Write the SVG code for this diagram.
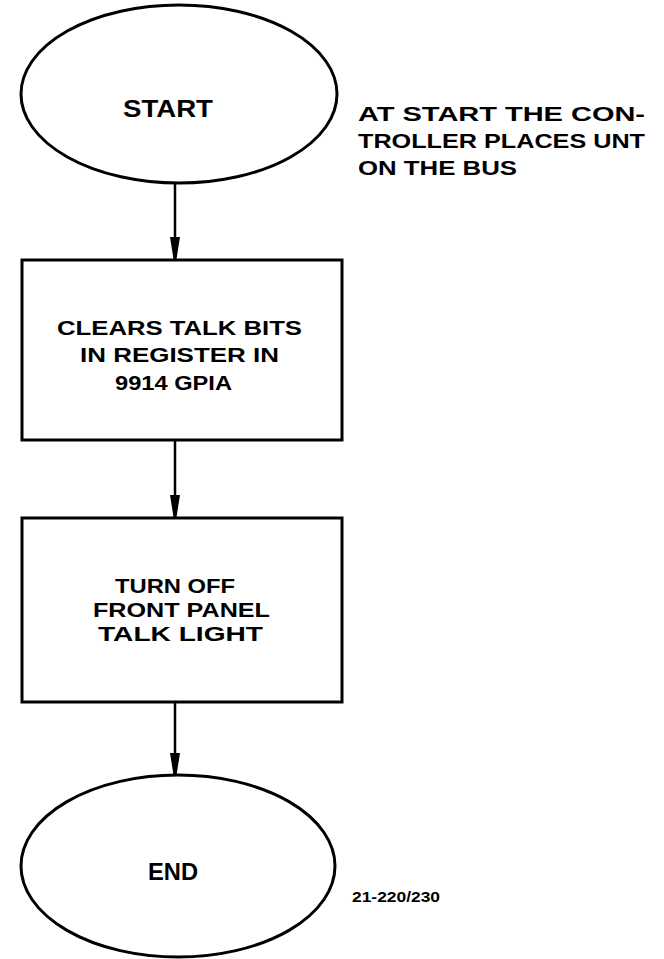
<svg xmlns="http://www.w3.org/2000/svg" width="664" height="959" viewBox="0 0 664 959">
  <style>
    .shape { fill: none; stroke: #000; stroke-width: 3; }
    .wire { fill: none; stroke: #000; stroke-width: 2.5; }
    .lbl { font-family: "Liberation Sans", Arial, sans-serif; font-weight: bold; font-size: 21px; fill: #000; text-anchor: middle; }
    .term { font-size: 24px; }
    .note { font-family: "Liberation Sans", Arial, sans-serif; font-weight: bold; font-size: 21px; fill: #000; }
    .ref { font-family: "Liberation Sans", Arial, sans-serif; font-weight: bold; font-size: 14px; fill: #000; }
  </style>
  <defs>
    <!-- narrow tapered arrowhead, tip at the end of the line -->
    <marker id="head" viewBox="0 0 22 10" refX="22" refY="5" markerWidth="22" markerHeight="10" markerUnits="userSpaceOnUse" orient="auto">
      <path d="M0,0 L22,3.5 L22,6.5 L0,10 Z" fill="#000"/>
    </marker>
  </defs>
  <rect width="664" height="959" fill="#fff"/>

  <g id="connectors">
    <line class="wire" x1="175" y1="183" x2="175" y2="259" marker-end="url(#head)"/>
    <line class="wire" x1="175" y1="440" x2="175" y2="517" marker-end="url(#head)"/>
    <line class="wire" x1="175" y1="702" x2="175" y2="775" marker-end="url(#head)"/>
  </g>

  <g id="start">
    <ellipse class="shape" cx="179" cy="94" rx="158" ry="89"/>
    <text class="lbl term" x="168" y="117" textLength="90" lengthAdjust="spacingAndGlyphs">START</text>
  </g>

  <g id="start-note">
    <text class="note" x="358" y="121" textLength="287" lengthAdjust="spacingAndGlyphs">AT START THE CON-</text>
    <text class="note" x="358" y="148" textLength="287" lengthAdjust="spacingAndGlyphs">TROLLER PLACES UNT</text>
    <text class="note" x="358" y="175" textLength="159" lengthAdjust="spacingAndGlyphs">ON THE BUS</text>
  </g>

  <g id="clear-talk">
    <rect class="shape" x="22" y="260" width="320" height="180"/>
    <text class="lbl" x="179.5" y="335" textLength="245" lengthAdjust="spacingAndGlyphs">CLEARS TALK BITS</text>
    <text class="lbl" x="179.5" y="362" textLength="199" lengthAdjust="spacingAndGlyphs">IN REGISTER IN</text>
    <text class="lbl" x="173.5" y="390" textLength="117" lengthAdjust="spacingAndGlyphs">9914 GPIA</text>
  </g>

  <g id="talk-light">
    <rect class="shape" x="22" y="518" width="320" height="184"/>
    <text class="lbl" x="175" y="593" textLength="120" lengthAdjust="spacingAndGlyphs">TURN OFF</text>
    <text class="lbl" x="181.5" y="617" textLength="177" lengthAdjust="spacingAndGlyphs">FRONT PANEL</text>
    <text class="lbl" x="180.5" y="641" textLength="165" lengthAdjust="spacingAndGlyphs">TALK LIGHT</text>
  </g>

  <g id="end">
    <ellipse class="shape" cx="178" cy="866" rx="157" ry="91"/>
    <text class="lbl term" x="173" y="880" textLength="50" lengthAdjust="spacingAndGlyphs">END</text>
  </g>

  <text class="ref" x="352" y="902" textLength="88" lengthAdjust="spacingAndGlyphs">21-220/230</text>
</svg>
